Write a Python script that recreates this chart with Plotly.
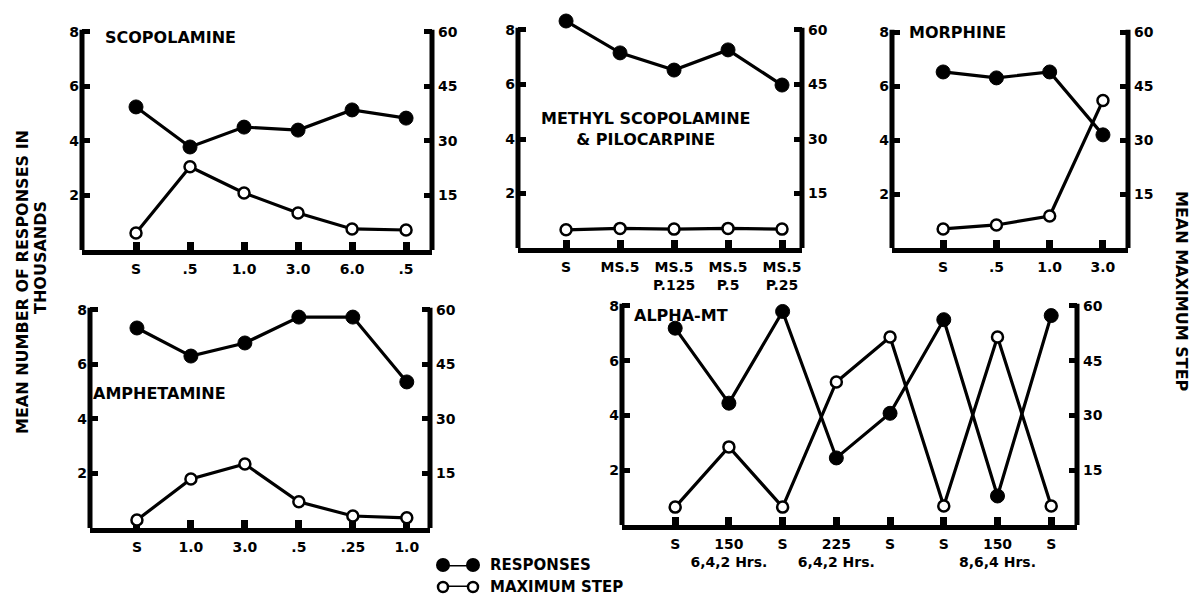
import plotly.graph_objects as go

W, H = 1196, 596

# ---------------- data ----------------
scop_labels = ["S", ".5", "1.0", "3.0", "6.0", ".5"]
scop_resp = [5.25, 3.78, 4.51, 4.4, 5.14, 4.84]
scop_step = [4.7, 22.9, 15.7, 10.2, 5.8, 5.5]

meth_labels = ["S", "MS.5", "MS.5<br>P.125", "MS.5<br>P.5", "MS.5<br>P.25"]
meth_resp = [8.33, 7.16, 6.53, 7.27, 5.98]
meth_step = [5.0, 5.4, 5.2, 5.4, 5.2]

morph_labels = ["S", ".5", "1.0", "3.0"]
morph_resp = [6.52, 6.3, 6.52, 4.19]
morph_step = [5.3, 6.4, 8.9, 41.0]

amph_labels = ["S", "1.0", "3.0", ".5", ".25", "1.0"]
amph_resp = [7.34, 6.31, 6.79, 7.74, 7.74, 5.36]
amph_step = [2.2, 13.5, 17.6, 7.2, 3.3, 2.8]

alpha_labels = ["S", "150<br>6,4,2 Hrs.", "S", "225<br>6,4,2 Hrs.", "S", "S",
                "150<br>8,6,4 Hrs.", "S"]
alpha_resp = [7.19, 4.45, 7.8, 2.45, 4.08, 7.5, 1.06, 7.65]
alpha_step = [4.9, 21.4, 4.9, 39.2, 51.5, 5.2, 51.5, 5.2]

panel_titles = ["SCOPOLAMINE", "METHYL SCOPOLAMINE<br>& PILOCARPINE", "MORPHINE",
                "AMPHETAMINE", "ALPHA-MT"]
left_ticks = [2, 4, 6, 8]
right_ticks = [15, 30, 45, 60]
legend_names = ["RESPONSES", "MAXIMUM STEP"]
left_title_1 = "MEAN NUMBER OF RESPONSES IN"
left_title_2 = "THOUSANDS"
right_title = "MEAN MAXIMUM STEP"

# ---------------- layout geometry (pixels) ----------------
FONT = "DejaVu Sans"
LMAX, RMAX = 8, 60      # axis line ends
HEAD = 0.7              # extra room above the top tick (in left-axis units)
# (left px, right px, top px (value 8), baseline px, x-range)
panels = [
    (scop_labels, scop_resp, scop_step, (82, 432, 32, 250), (0.0, 6.48)),
    (meth_labels, meth_resp, meth_step, (518, 802, 30, 248), (0.11, 5.37)),
    (morph_labels, morph_resp, morph_step, (892, 1128, 32, 248), (0.04, 4.47)),
    (amph_labels, amph_resp, amph_step, (90, 430, 310, 528), (0.13, 6.43)),
    (alpha_labels, alpha_resp, alpha_step, (622, 1077, 306, 525), (0.01, 8.48)),
]


def px(x):
    return x / W


def py(y):
    return 1 - y / H


def sid(n):
    return "" if n == 1 else str(n)


fig = go.Figure()
layout = {}
shapes = []
tickfont = dict(family=FONT, size=14, color="black", weight="bold")

for i, (labels, resp, step, (l, r, t, b), xr) in enumerate(panels, start=1):
    xid, yl, yr = i, 2 * i - 1, 2 * i
    pos = list(range(1, len(labels) + 1))
    unit = (b - t) / LMAX
    top_px = t - HEAD * unit
    fig.add_trace(go.Scatter(
        x=pos, y=resp, xaxis="x" + sid(xid), yaxis="y" + sid(yl),
        mode="lines+markers", cliponaxis=False, showlegend=False,
        line=dict(color="black", width=3.2),
        marker=dict(size=14, color="black", line=dict(color="black", width=1)),
    ))
    fig.add_trace(go.Scatter(
        x=pos, y=step, xaxis="x" + sid(xid), yaxis="y" + sid(yr),
        mode="lines+markers", cliponaxis=False, showlegend=False,
        line=dict(color="black", width=3.2),
        marker=dict(size=11, color="white", line=dict(color="black", width=2.5)),
    ))
    common = dict(ticks="inside", tickcolor="black", showgrid=False, zeroline=False,
                  tickfont=tickfont, fixedrange=True, layer="below traces")
    layout["xaxis" + sid(xid)] = dict(
        domain=[px(l), px(r)], range=list(xr), anchor="y" + sid(yl),
        tickmode="array", tickvals=pos, ticktext=labels,
        showline=True, linewidth=5, linecolor="black",
        ticklen=8, tickwidth=7, ticklabelstandoff=2, **common)
    layout["yaxis" + sid(yl)] = dict(
        domain=[py(b), py(top_px)], range=[0, LMAX + HEAD], anchor="x" + sid(xid),
        tickmode="array", tickvals=left_ticks, ticktext=[str(v) for v in left_ticks],
        showline=False, ticklen=8, tickwidth=5, ticklabelstandoff=2, **common)
    layout["yaxis" + sid(yr)] = dict(
        overlaying="y" + sid(yl), side="right", range=[0, RMAX * (LMAX + HEAD) / LMAX],
        anchor="x" + sid(xid),
        tickmode="array", tickvals=right_ticks, ticktext=[str(v) for v in right_ticks],
        showline=False, ticklen=8, tickwidth=5, ticklabelstandoff=5, **common)
    # vertical axis lines ending at the top tick
    for xd in (0, 1):
        shapes.append(dict(type="line", xref="x" + sid(xid) + " domain",
                           yref="y" + sid(yl), x0=xd, x1=xd, y0=0, y1=LMAX + 0.08,
                           line=dict(color="black", width=5), layer="below"))

# legend keys drawn in a small hidden axis pair
fig.add_trace(go.Scatter(
    x=[0, 1], y=[1, 1], xaxis="x6", yaxis="y11", mode="lines+markers",
    cliponaxis=False, showlegend=False, line=dict(color="black", width=3),
    marker=dict(size=14, color="black")))
fig.add_trace(go.Scatter(
    x=[0, 1], y=[0, 0], xaxis="x6", yaxis="y11", mode="lines+markers",
    cliponaxis=False, showlegend=False, line=dict(color="black", width=3),
    marker=dict(size=10, color="white", line=dict(color="black", width=2.5))))
layout["xaxis6"] = dict(domain=[px(443), px(473)], range=[0, 1], visible=False,
                        anchor="y11", fixedrange=True)
layout["yaxis11"] = dict(domain=[py(587), py(565)], range=[0, 1], visible=False,
                         anchor="x6", fixedrange=True)

ann = []
lab_font = dict(family=FONT, size=16, color="black", weight="bold")
title_pos = [(103, 38, "left"), (645, 129, "center"), (907, 33, "left"),
             (91, 393, "left"), (632, 315, "left")]
for text, (x, y, al) in zip(panel_titles, title_pos):
    ann.append(dict(text=text, x=px(x), y=py(y), xref="paper", yref="paper",
                    xanchor=al, yanchor="middle", align="center",
                    showarrow=False, font=lab_font))

leg_font = dict(family=FONT, size=15, color="black", weight="bold")
for text, y in zip(legend_names, [565, 587]):
    ann.append(dict(text=text, x=px(488), y=py(y), xref="paper", yref="paper",
                    xanchor="left", yanchor="middle", showarrow=False, font=leg_font))

ttl_font = dict(family=FONT, size=16, color="black", weight="bold")
ann.append(dict(text=left_title_1, x=px(22), y=py(282), xref="paper", yref="paper",
                textangle=-90, xanchor="center", yanchor="middle", showarrow=False,
                font=ttl_font))
ann.append(dict(text=left_title_2, x=px(40), y=py(258), xref="paper", yref="paper",
                textangle=-90, xanchor="center", yanchor="middle", showarrow=False,
                font=ttl_font))
ann.append(dict(text=right_title, x=px(1182), y=py(291), xref="paper", yref="paper",
                textangle=90, xanchor="center", yanchor="middle", showarrow=False,
                font=ttl_font))

fig.update_layout(
    width=W, height=H, margin=dict(l=0, r=0, t=0, b=0),
    paper_bgcolor="white", plot_bgcolor="white", showlegend=False,
    annotations=ann, shapes=shapes, **layout)

fig.write_html("out.html", config={"displayModeBar": False},
               post_script="document.body.style.margin='0px';"
                           "document.body.style.padding='0px';"
                           "document.body.style.overflow='hidden';")
